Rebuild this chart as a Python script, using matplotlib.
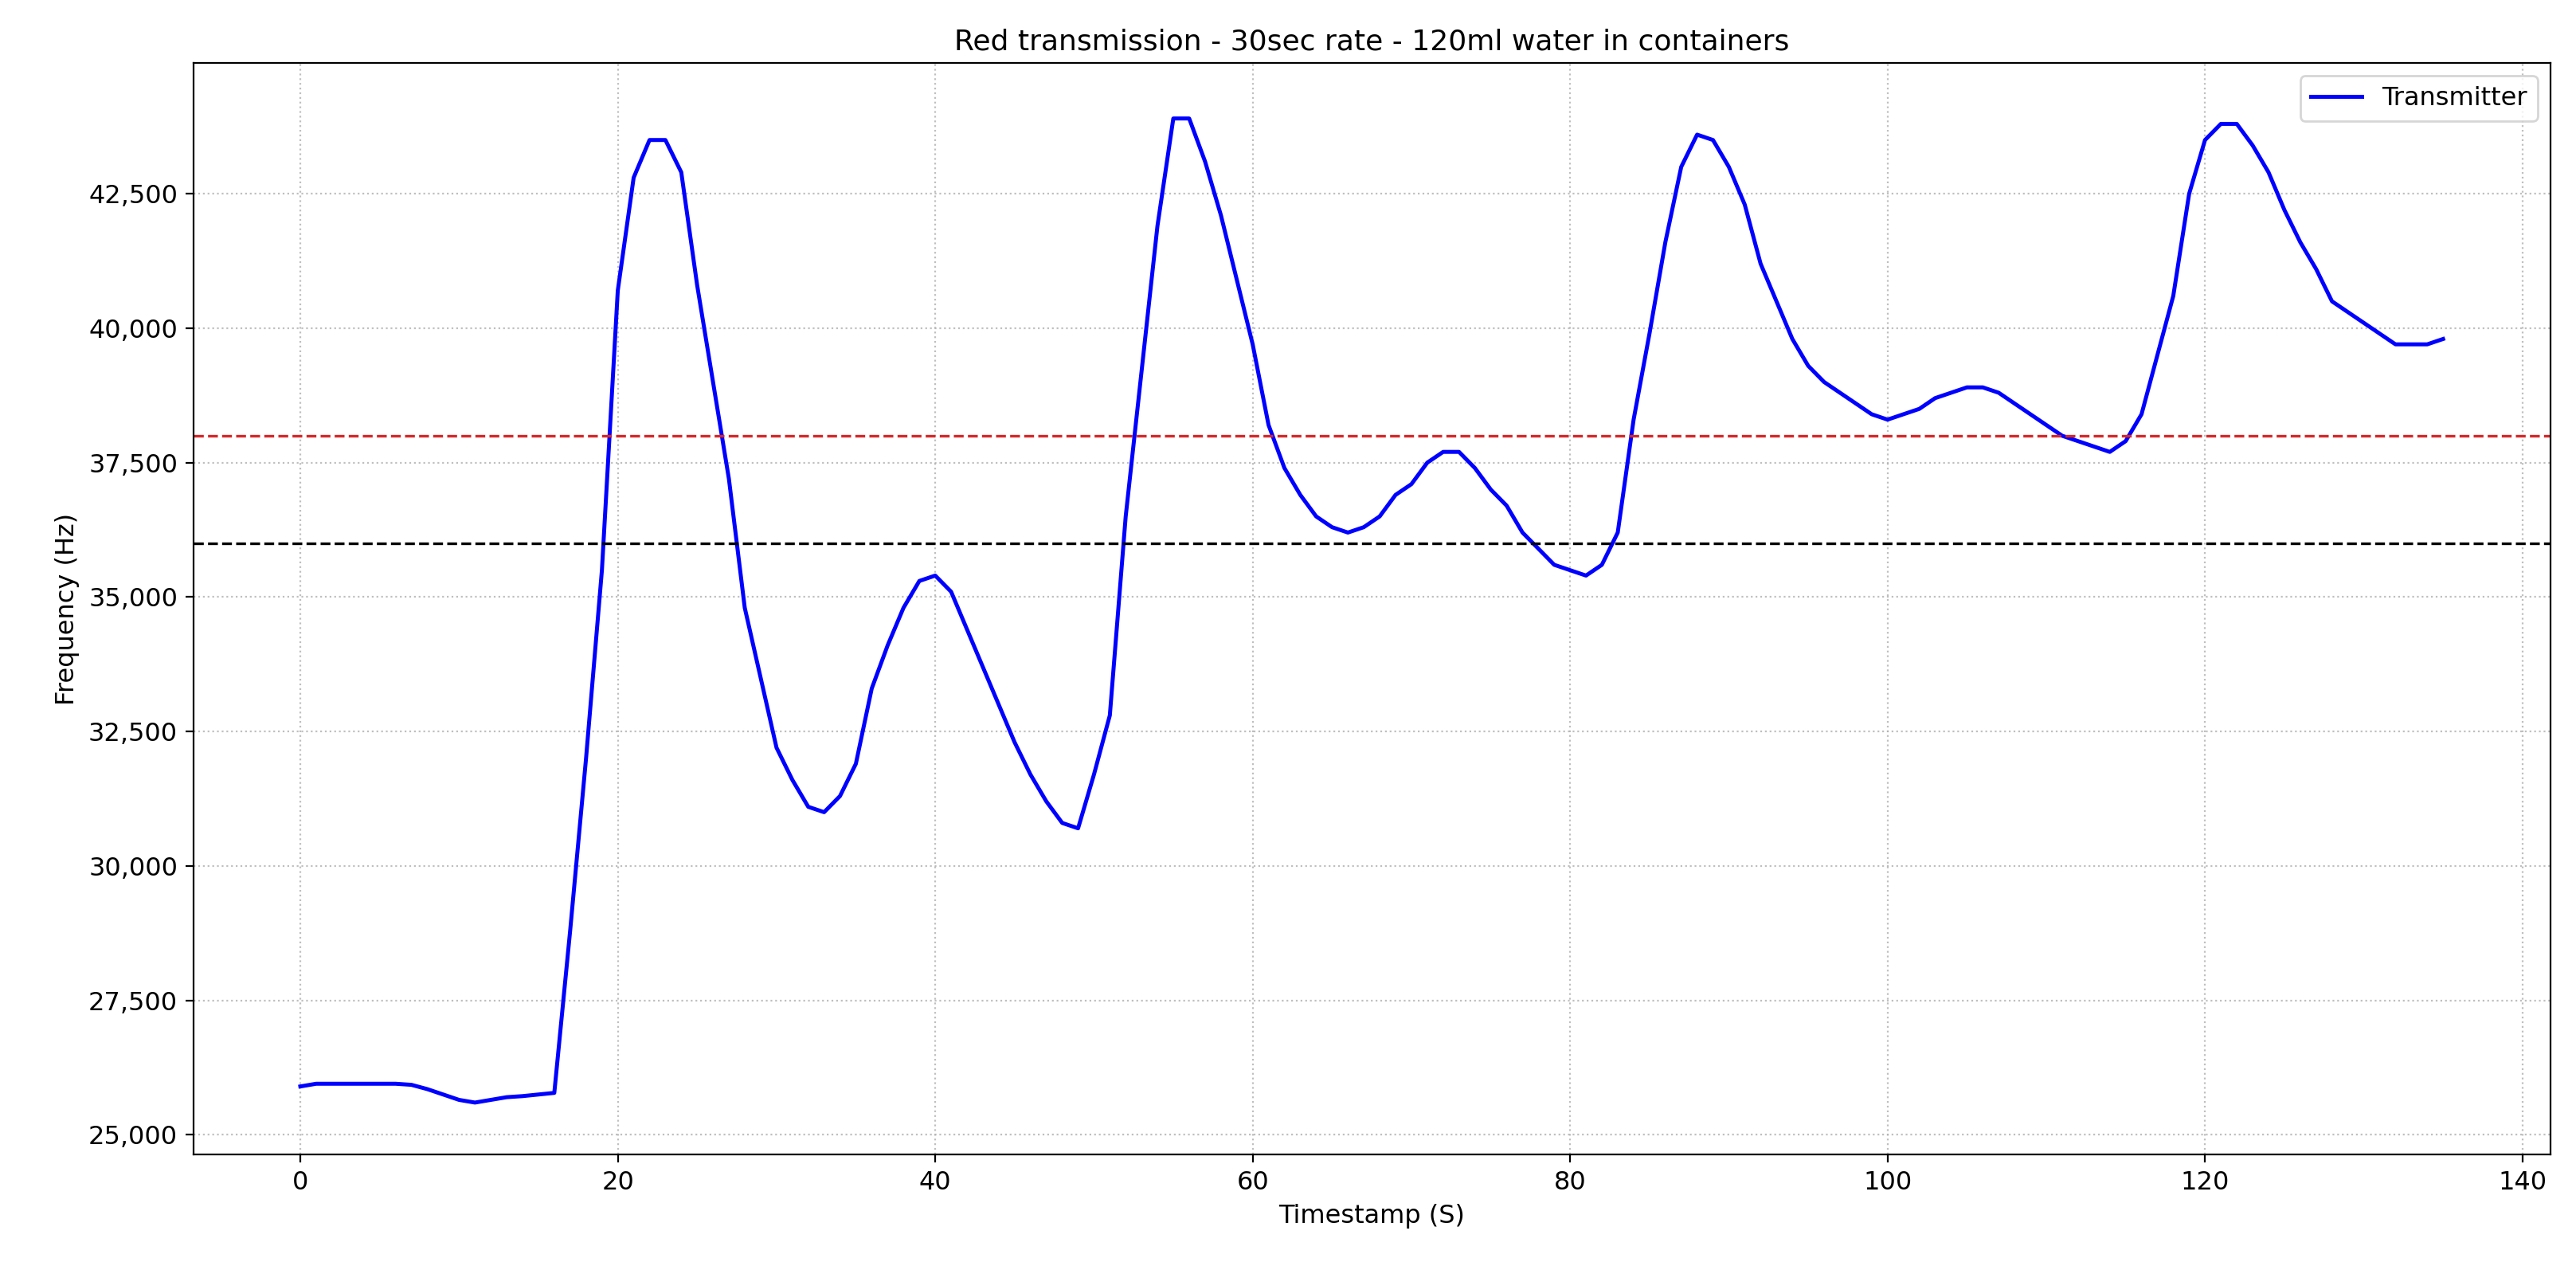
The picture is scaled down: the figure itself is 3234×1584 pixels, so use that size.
import matplotlib.pyplot as plt
import numpy as np
from matplotlib.ticker import FuncFormatter

# Frequency readings, one per second
timestamps = list(range(0, 136))
frequency = [
    25900, 25950, 25950, 25950, 25950, 25950, 25950, 25930, 25850, 25750,
    25650, 25600, 25650, 25700, 25720, 25750, 25780, 28800, 32000, 35500,
    40700, 42800, 43500, 43500, 42900, 40800, 39000, 37200, 34800, 33500,
    32200, 31600, 31100, 31000, 31300, 31900, 33300, 34100, 34800, 35300,
    35400, 35100, 34400, 33700, 33000, 32300, 31700, 31200, 30800, 30700,
    31700, 32800, 36500, 39200, 41900, 43900, 43900, 43100, 42100, 40900,
    39700, 38200, 37400, 36900, 36500, 36300, 36200, 36300, 36500, 36900,
    37100, 37500, 37700, 37700, 37400, 37000, 36700, 36200, 35900, 35600,
    35500, 35400, 35600, 36200, 38300, 39900, 41600, 43000, 43600, 43500,
    43000, 42300, 41200, 40500, 39800, 39300, 39000, 38800, 38600, 38400,
    38300, 38400, 38500, 38700, 38800, 38900, 38900, 38800, 38600, 38400,
    38200, 38000, 37900, 37800, 37700, 37900, 38400, 39500, 40600, 42500,
    43500, 43800, 43800, 43400, 42900, 42200, 41600, 41100, 40500, 40300,
    40100, 39900, 39700, 39700, 39700, 39800,
]
upper_threshold = 38000
lower_threshold = 36000

fig, ax = plt.subplots(figsize=(16.17, 7.92), dpi=200)
fig.subplots_adjust(left=0.075, right=0.99, top=0.95, bottom=0.085)

ax.plot(timestamps, frequency, color="blue", linewidth=1.8, label="Transmitter")
ax.axhline(upper_threshold, color="#d62728", linestyle="--", linewidth=1.2)
ax.axhline(lower_threshold, color="black", linestyle="--", linewidth=1.2)

ax.set_xlim(-6.75, 141.75)
ax.set_ylim(24630, 44930)
ax.set_yticks(np.arange(25000, 42501, 2500))
ax.yaxis.set_major_formatter(FuncFormatter(lambda v, p: f"{int(v):,}"))
ax.tick_params(labelsize=11.5)

ax.set_title("Red transmission - 30sec rate - 120ml water in containers", fontsize=13)
ax.set_xlabel("Timestamp (S)", fontsize=11.5)
ax.set_ylabel("Frequency (Hz)", fontsize=11.5)
ax.grid(linestyle=":", alpha=0.8)
ax.legend(loc="upper right", fontsize=11.5)

plt.savefig("out.png", dpi=200)
